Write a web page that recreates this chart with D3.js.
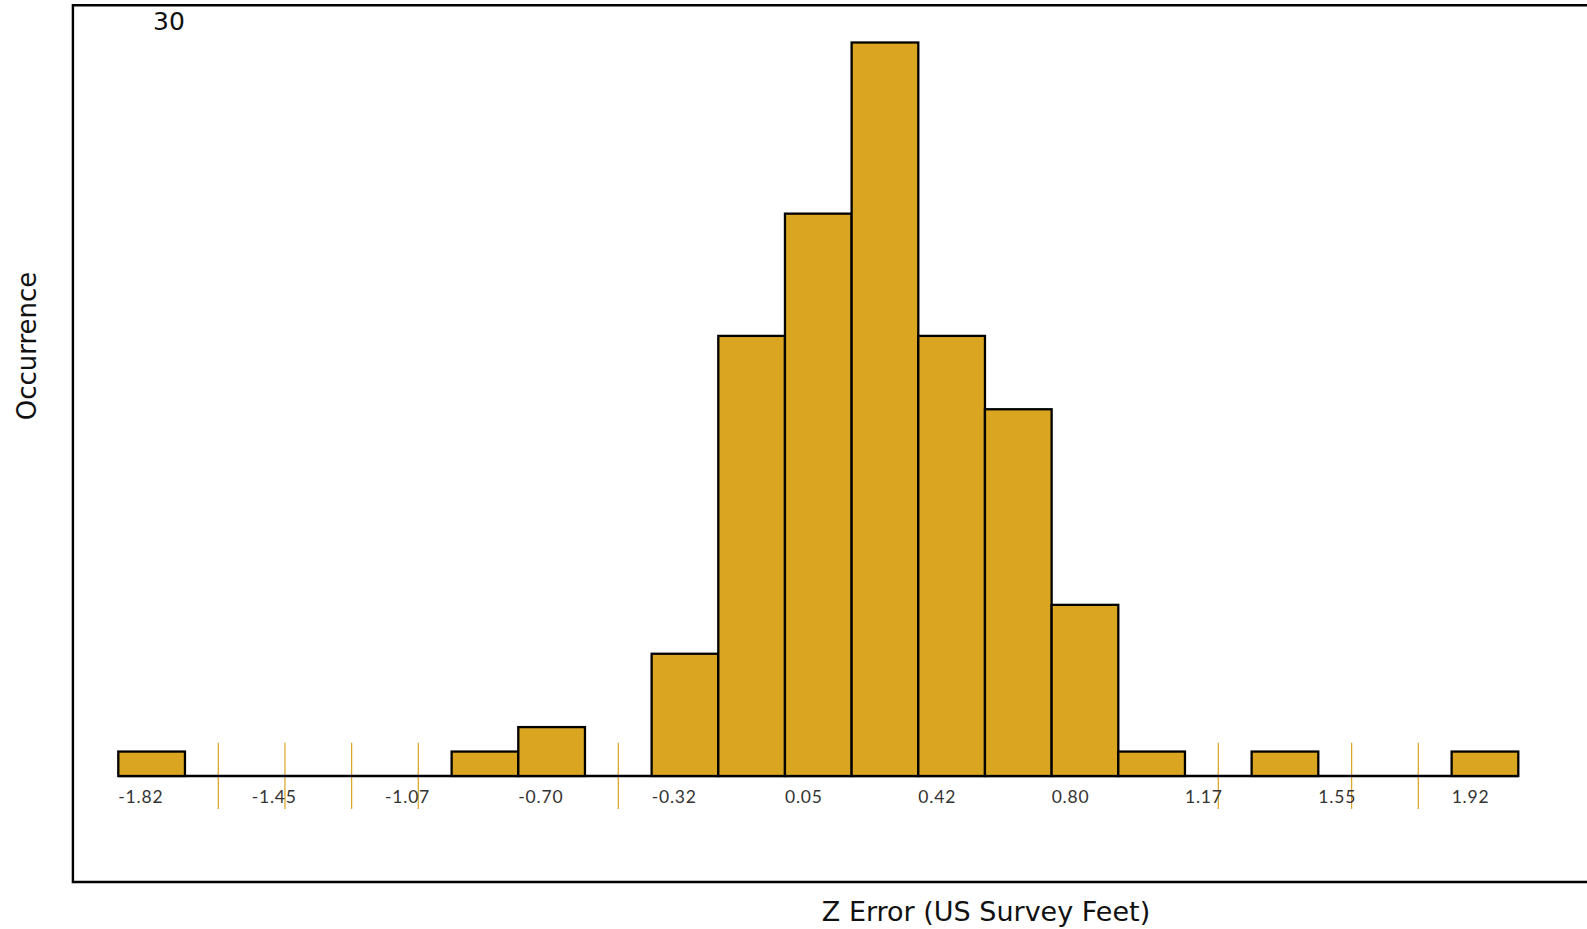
<!DOCTYPE html>
<html>
<head>
<meta charset="utf-8">
<script src="https://cdnjs.cloudflare.com/ajax/libs/d3/7.8.5/d3.min.js"></script>
<style>
  body { margin: 0; background: #fff; overflow: hidden; }
  #chart { width: 1587px; height: 929px; }
</style>
</head>
<body>
<div id="chart"></div>
<script>
// histogram bins (lower edge of each bin) and the counts
var binStarts = ["-1.82", "-1.63", "-1.45", "-1.26", "-1.07", "-0.89", "-0.70", "-0.51", "-0.32", "-0.14",
                 "0.05", "0.24", "0.42", "0.61", "0.80", "0.99", "1.17", "1.36", "1.55", "1.74", "1.92"];
var counts = [1, 0, 0, 0, 0, 1, 2, 0, 5, 18, 23, 30, 18, 15, 7, 1, 0, 1, 0, 0, 1];
var tickLabels = ["-1.82", "-1.45", "-1.07", "-0.70", "-0.32", "0.05", "0.42", "0.80", "1.17", "1.55", "1.92"];
var yMaxLabel = 30;

var chartDiv = document.getElementById("chart");
var width = 1587;
var height = 929;

var svg = d3.select(chartDiv).append("svg")
    .attr("width", width)
    .attr("height", height);

var x = d3.scaleBand()
    .domain(binStarts)
    .range([118.3, 1518.3])
    .padding(0);

var y = d3.scaleLinear()
    .domain([0, yMaxLabel])
    .range([776, 42.5]);

var bins = binStarts.map(function(b, i) { return {start: b, count: counts[i]}; });

// frame (left, top, bottom; runs off the right edge)
svg.append("path")
    .attr("d", "M" + (width + 10) + ",5.3 H72.9 V882 H" + (width + 10))
    .attr("fill", "none")
    .attr("stroke", "#000")
    .attr("stroke-width", 2.4);

// thin marks for the empty bins
svg.append("g").selectAll("line")
    .data(bins.filter(function(d) { return d.count === 0; }))
    .enter().append("line")
    .attr("x1", function(d) { return x(d.start) + x.bandwidth() / 2; })
    .attr("x2", function(d) { return x(d.start) + x.bandwidth() / 2; })
    .attr("y1", 742.7)
    .attr("y2", 809)
    .attr("stroke", "#DAA520")
    .attr("stroke-width", 1.2);

// baseline under the bins
svg.append("line")
    .attr("x1", x(binStarts[0]))
    .attr("x2", x(binStarts[binStarts.length - 1]) + x.bandwidth())
    .attr("y1", y(0))
    .attr("y2", y(0))
    .attr("stroke", "#000")
    .attr("stroke-width", 2.6);

// bars
svg.append("g").selectAll("rect")
    .data(bins.filter(function(d) { return d.count > 0; }))
    .enter().append("rect")
    .attr("x", function(d) { return x(d.start); })
    .attr("width", x.bandwidth())
    .attr("y", function(d) { return y(d.count); })
    .attr("height", function(d) { return y(0) - y(d.count); })
    .attr("fill", "#DAA520")
    .attr("stroke", "#000")
    .attr("stroke-width", 2.3);

// x axis labels, left aligned on the bin edges
var xAxis = svg.append("g")
    .attr("transform", "translate(0,776)")
    .call(d3.axisBottom(x).tickValues(tickLabels).tickSize(0));
xAxis.select(".domain").remove();
xAxis.selectAll("text")
    .attr("x", -x.bandwidth() / 2)
    .attr("y", 0)
    .attr("dy", 0)
    .attr("transform", "translate(0,27.3)")
    .attr("text-anchor", "start")
    .style("font-family", "Lato, sans-serif")
    .style("font-size", "17.5px")
    .style("letter-spacing", "0.8px")
    .style("fill", "#333");

// y max label
svg.append("text")
    .attr("x", 153)
    .attr("y", 29.5)
    .style("font-family", "DejaVu Sans, sans-serif")
    .style("font-size", "25px")
    .style("fill", "#111")
    .text(yMaxLabel);

// axis titles
svg.append("text")
    .attr("x", 986)
    .attr("y", 921)
    .attr("text-anchor", "middle")
    .style("font-family", "DejaVu Sans, sans-serif")
    .style("font-size", "27px")
    .style("fill", "#111")
    .text("Z Error (US Survey Feet)");

svg.append("text")
    .attr("transform", "translate(36,346) rotate(-90)")
    .attr("text-anchor", "middle")
    .style("font-family", "DejaVu Sans, sans-serif")
    .style("font-size", "26px")
    .style("fill", "#111")
    .text("Occurrence");
</script>
</body>
</html>
